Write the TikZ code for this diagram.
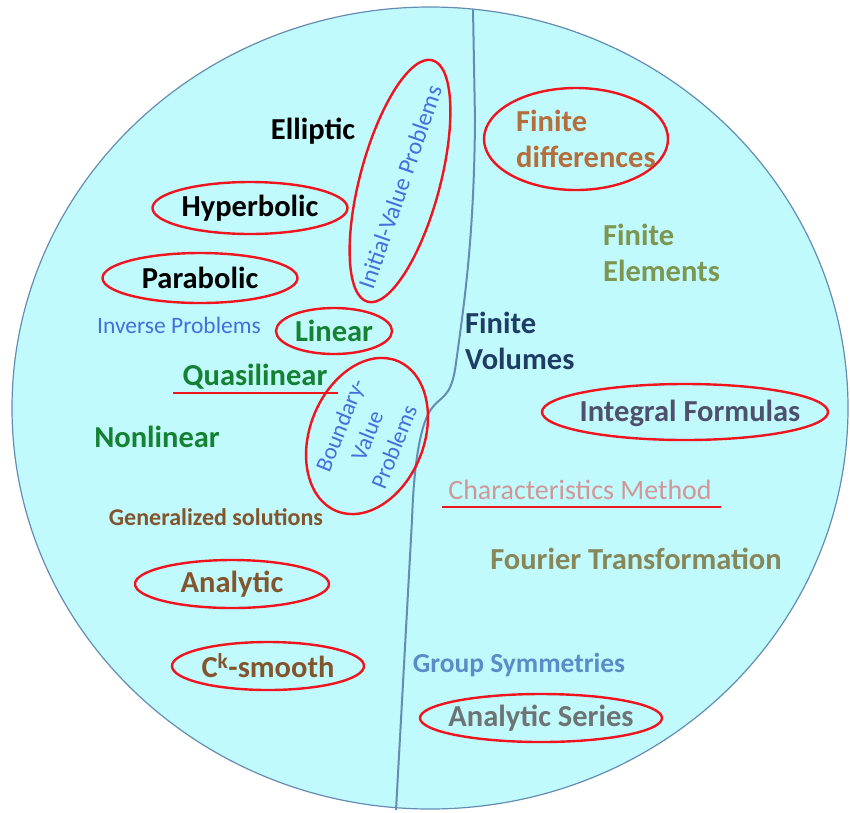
\documentclass[tikz,border=0pt]{standalone}
\usepackage{fontspec}
\setmainfont{Carlito}
\usetikzlibrary{shapes.geometric}
\definecolor{cyanfill}{RGB}{192,250,252}
\definecolor{rimblue}{RGB}{100,140,180}
\definecolor{ovalred}{RGB}{240,20,30}
\definecolor{ivpblue}{RGB}{70,110,220}
\definecolor{lingreen}{RGB}{20,130,50}
\definecolor{solbrown}{RGB}{130,85,45}
\definecolor{fdorange}{RGB}{180,110,60}
\definecolor{feolive}{RGB}{125,150,80}
\definecolor{fvnavy}{RGB}{30,60,100}
\definecolor{ifgray}{RGB}{80,80,110}
\definecolor{cmpink}{RGB}{210,150,150}
\definecolor{ftkhaki}{RGB}{135,135,90}
\definecolor{gsblue}{RGB}{90,140,200}
\definecolor{asgray}{RGB}{110,115,115}
\begin{document}
\begin{tikzpicture}[x=1pt,y=-1pt,
    lbl/.style={font=\bfseries\fontsize{30.5}{36}\selectfont,inner sep=0pt},
    small/.style={font=\fontsize{#1}{29}\selectfont,inner sep=0pt},
    smallbf/.style={font=\bfseries\fontsize{#1}{29}\selectfont,inner sep=0pt},
    oval/.style={draw=ovalred,line width=2.4pt,ellipse,inner sep=0pt},
    redline/.style={draw=ovalred,line width=2.4pt}]
  \useasboundingbox (0,0) rectangle (850,812);
  \fill[cyanfill] (430,408) ellipse [x radius=418, y radius=401];
  \draw[rimblue,line width=1.2pt] (430,408) ellipse [x radius=418, y radius=401];
  \coordinate (dtop) at (473,9);
  \coordinate (dbot) at (396,810);
  \draw[rimblue,line width=2pt] (dtop) -- (475,120)
    .. controls (474,240) and (464,305) .. (455,370)
    .. controls (450,398) and (441,396) .. (432,408)
    .. controls (421,422) and (414,460) .. (412,520) -- (dbot);
  % left half
  \node[lbl] (ell) at (313,131) {Elliptic};
  \node[lbl,oval,minimum width=195pt,minimum height=52pt] (hyp) at (250,208) {Hyperbolic};
  \node[lbl,oval,minimum width=195pt,minimum height=50pt] (par) at (200,278) {Parabolic};
  \node[oval,minimum width=250pt,minimum height=80pt,rotate=75] (ivpo) at (400,181) {};
  \node[small=24,text=ivpblue,rotate=71] (ivp) at (400,187) {Initial-Value Problems};
  \node[small=23.5,text=ivpblue] (inv) at (179,325) {Inverse Problems};
  \node[lbl,text=lingreen,oval,minimum width=116pt,minimum height=46pt] (lin) at (334,331) {Linear};
  \node[lbl,text=lingreen] (qua) at (255,377) {Quasilinear};
  \coordinate (qa) at (173,393);
  \coordinate (qb) at (338,393);
  \draw[redline] (qa) -- (qb);
  \node[small=23,text=ivpblue,oval,minimum width=162pt,minimum height=114pt,rotate=68,align=center] (bvp) at (367,436) {Boundary-\\Value\\Problems};
  \node[lbl,text=lingreen] (non) at (157,437) {Nonlinear};
  \node[smallbf=24,text=solbrown] (gen) at (216,517) {Generalized solutions};
  \node[lbl,text=solbrown,oval,minimum width=194pt,minimum height=48pt] (ana) at (232,584) {Analytic};
  \node[lbl,text=solbrown,oval,minimum width=192pt,minimum height=48pt] (cks) at (268,666) {C\textsuperscript{k}-smooth};
  % right half
  \node[oval,minimum width=184pt,minimum height=102pt] (fdo) at (576,139) {};
  \node[lbl,text=fdorange,align=left,anchor=west] (fd) at (516,139) {Finite\\differences};
  \node[lbl,text=feolive,align=left,anchor=west] (fe) at (603,253) {Finite\\Elements};
  \node[lbl,text=fvnavy,align=left,anchor=west] (fv) at (465,341) {Finite\\Volumes};
  \node[oval,minimum width=286pt,minimum height=56pt] (into) at (685,412) {};
  \node[lbl,text=ifgray] (int) at (690,413) {Integral Formulas};
  \node[small=28,text=cmpink] (chm) at (580,490) {Characteristics Method};
  \coordinate (ca) at (442,507);
  \coordinate (cb) at (721,507);
  \draw[redline] (ca) -- (cb);
  \node[lbl,text=ftkhaki] (fou) at (636,559) {Fourier Transformation};
  \node[smallbf=27.5,text=gsblue] (grp) at (519,665) {Group Symmetries};
  \node[oval,minimum width=242pt,minimum height=48pt] (sero) at (541,718) {};
  \node[lbl,text=asgray] (ser) at (541,718) {Analytic Series};
\end{tikzpicture}
\end{document}
